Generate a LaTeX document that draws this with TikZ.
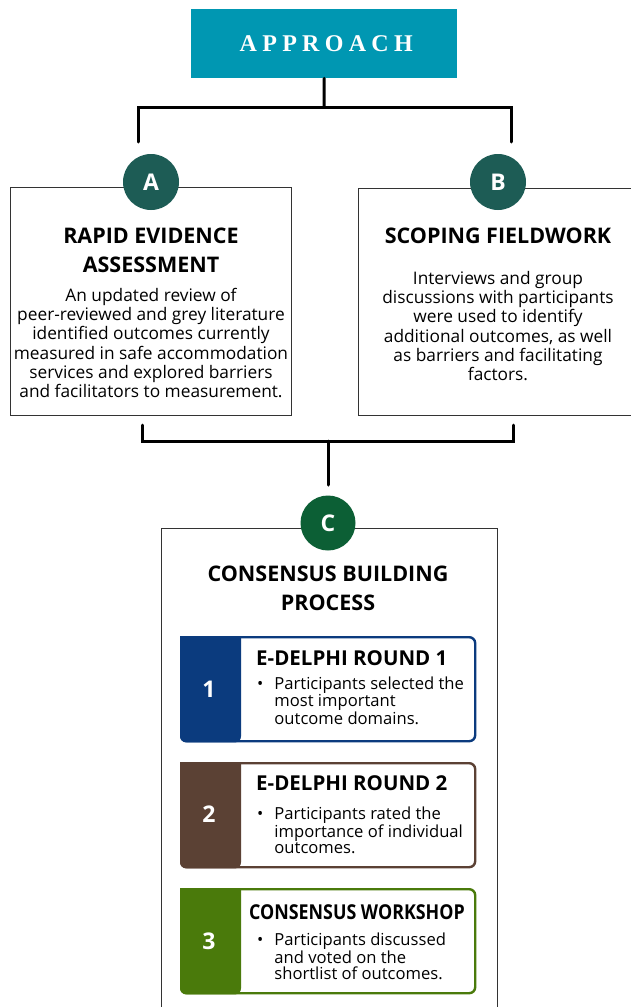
\documentclass[tikz,border=0pt]{standalone}
\usepackage{fontspec}
\setmainfont{Open Sans}
\newfontfamily\serifcaps[LetterSpace=22]{Liberation Serif}
\newfontfamily\condbold[FakeStretch=0.87]{Open Sans}
\definecolor{teal}{HTML}{0097B2}
\definecolor{circAB}{HTML}{1D5C55}
\definecolor{circC}{HTML}{0C5F35}
\definecolor{stepblue}{HTML}{0B3B7E}
\definecolor{stepbrown}{HTML}{5B4134}
\definecolor{stepgreen}{HTML}{4A7A0B}
\definecolor{boxline}{HTML}{333333}
\begin{document}
\begin{tikzpicture}[x=1pt,y=-1pt,
  conn/.style={line width=3pt,black,line cap=round,line join=miter},
  bigbox/.style={draw=boxline,line width=1.4pt,fill=white,anchor=north west,inner sep=0pt},
  badge/.style={circle,fill=#1,minimum size=56pt,inner sep=0pt,text=white,font=\fontsize{23}{23}\selectfont\bfseries},
  title/.style={align=center,font=\fontsize{21.5}{29}\selectfont\bfseries,inner sep=0pt},
  body/.style={align=center,font=\fontsize{17.3}{19.1}\selectfont,inner sep=0pt},
  stepbox/.style={draw=#1,line width=2.4pt,rounded corners=6pt,fill=white,anchor=north west,inner sep=0pt,minimum width=294pt,minimum height=104pt},
  steptitle/.style={anchor=west,inner sep=0pt,font=\fontsize{20.5}{20.5}\selectfont\bfseries},
  stepbody/.style={anchor=north west,inner sep=0pt,align=left,font=\fontsize{16.6}{15.6}\selectfont},
  stepnum/.style={text=white,inner sep=0pt,font=\fontsize{23}{23}\selectfont\bfseries}
]
\useasboundingbox (0,0) rectangle (631,1007);
\fill[white] (0,0) rectangle (631,1007);

% top
\node[fill=teal,minimum width=266pt,minimum height=69pt,anchor=north west,inner sep=0pt] (approach) at (191,9) {};
\node[text=white,font=\serifcaps\fontsize{24}{24}\selectfont\bfseries] (approachtxt) at ([xshift=2pt]approach.center) {APPROACH};

\coordinate (hub) at (324,107);
\coordinate (ja) at (138,142);
\coordinate (jb) at (511,142);
\draw[conn] (approach.south) -- (hub);
\draw[conn] (ja) |- (hub) -| (jb);

% Box A
\node[bigbox,minimum width=281pt,minimum height=228pt] (boxA) at (10,187) {};
\node[badge=circAB] (circA) at (151,182) {A};
\node[title] (titleA) at (151,250) {RAPID EVIDENCE\\ASSESSMENT};
\node[body] (bodyA) at (151,343) {An updated review of\\peer-reviewed and grey literature\\identified outcomes currently\\measured in safe accommodation\\services and explored barriers\\and facilitators to measurement.};

% Box B
\node[bigbox,minimum width=280pt,minimum height=227pt] (boxB) at (358,188) {};
\node[badge=circAB] (circB) at (498,182) {B};
\node[title] (titleB) at (498,236) {SCOPING FIELDWORK};
\node[body] (bodyB) at (498,326) {Interviews and group\\discussions with participants\\were used to identify\\additional outcomes, as well\\as barriers and facilitating\\factors.};

% bottom connector
\coordinate (ka) at (142,425);
\coordinate (kb) at (513,425);
\coordinate (hub2) at (328,441);
\coordinate (jc) at (328,485);
\draw[conn] (ka) |- (hub2) -| (kb);
\draw[conn] (hub2) -- (jc);

% Box C
\node[bigbox,minimum width=336pt,minimum height=490pt] (boxC) at (161,528) {};
\node[badge=circC,minimum size=55pt] (circC) at (328,523) {C};
\node[title] (titleC) at (328,588) {CONSENSUS BUILDING\\PROCESS};

% Step 1
\node[stepbox=stepblue] (s1) at (180,636) {};
\fill[stepblue,rounded corners=6pt] (s1.north west) -- (s1.south west) -- ([xshift=61pt]s1.south west) [sharp corners] -- ([xshift=61pt]s1.north west) -- cycle;
\node[stepnum] (n1) at (209,689) {1};
\node[steptitle] (t1) at (256,658) {E-DELPHI ROUND 1};
\node[stepbody] (b1) at (257,677) {\textbullet\hspace{11pt}\parbox[t]{200pt}{Participants selected the\\most important\\outcome domains.}};

% Step 2
\node[stepbox=stepbrown] (s2) at (180,762) {};
\fill[stepbrown,rounded corners=6pt] (s2.north west) -- (s2.south west) -- ([xshift=61pt]s2.south west) [sharp corners] -- ([xshift=61pt]s2.north west) -- cycle;
\node[stepnum] (n2) at (209,814) {2};
\node[steptitle] (t2) at (256,783) {E-DELPHI ROUND 2};
\node[stepbody] (b2) at (257,807) {\textbullet\hspace{11pt}\parbox[t]{200pt}{Participants rated the\\importance of individual\\outcomes.}};

% Step 3
\node[stepbox=stepgreen] (s3) at (180,888) {};
\fill[stepgreen,rounded corners=6pt] (s3.north west) -- (s3.south west) -- ([xshift=61pt]s3.south west) [sharp corners] -- ([xshift=61pt]s3.north west) -- cycle;
\node[stepnum] (n3) at (209,941) {3};
\node[steptitle,font=\condbold\fontsize{20.5}{20.5}\selectfont\bfseries] (t3) at (249,912) {CONSENSUS WORKSHOP};
\node[stepbody] (b3) at (257,933) {\textbullet\hspace{11pt}\parbox[t]{200pt}{Participants discussed\\and voted on the\\shortlist of outcomes.}};
\end{tikzpicture}
\end{document}
